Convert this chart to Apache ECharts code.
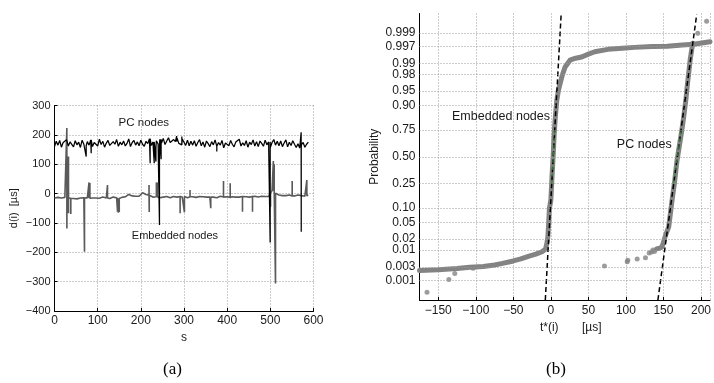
<!DOCTYPE html>
<html>
<head>
<meta charset="utf-8">
<script src="https://cdn.jsdelivr.net/npm/echarts@6/dist/echarts.min.js"></script>
<style>html,body{margin:0;padding:0;background:#fff;}#chart{width:714px;height:383px;}</style>
</head>
<body>
<div id="chart"></div>
<script>
// ---------- (a) time series ----------
const sTime = [0,4,8,12,16,20,24,28,32,36,40,44,48,52,56,60,64,68,72,76,80,84,88,92,96,100,104,108,112,116,
120,124,128,132,136,140,144,148,152,156,160,164,168,172,176,180,184,188,192,196,200,204,208,212,216,220,224,228,232,236,
240,244,248,252,256,260,264,268,272,276,280,284,288,292,296,300,304,308,312,316,320,324,328,332,336,340,344,348,352,356,
360,364,368,372,376,380,384,388,392,396,400,404,408,412,416,420,424,428,432,436,440,444,448,452,456,460,464,468,472,476,
480,484,488,492,496,500,504,508,512,516,520,524,528,532,536,540,544,548,552,556,560,564,568,572,576,580,584,588];
const pcBase = [160,178,165,181,158,174,169,183,162,176,171,159,180,166,175,157,182,168,163,177,
165,183,160,174,170,162,185,167,178,158,172,181,164,159,177,168,184,161,175,166,
179,162,171,186,160,174,181,165,176,163,182,168,161,178,170,187,164,176,159,180,
169,185,172,188,167,179,190,174,168,184,177,189,171,166,186,175,164,182,163,178,
165,180,161,174,184,163,176,158,179,170,160,177,166,183,161,174,165,181,156,172,
178,163,181,168,159,176,170,185,162,173,164,180,158,175,167,183,162,177,160,179,
171,161,182,166,176,157,174,184,165,178,163,179,160,172,183,159,175,164,180,168,
157,170,155,166,174,158,168,175];
const embBase = [-15,-18,-13,-16,-15,-19,-13,-16,-14,-17,-14,-17,-15,-18,-13,-15,-17,-14,-17,-15,
-16,-13,-15,-18,-15,-13,-16,-15,-12,-16,-15,-13,-17,-15,-12,-15,-14,-17,-15,-13,
-13,-11,-6,-3,-5,-8,-10,-9,-12,-9,-5,3,1,-3,-6,-8,-10,-12,-12,-11,
-12,-14,-11,-12,-14,-10,-12,-14,-12,-10,-13,-12,-10,-14,-12,-10,-12,-14,-11,-12,
-11,-13,-13,-10,-10,-13,-11,-13,-12,-10,-12,-10,-12,-12,-14,-11,-9,-12,-11,-10,
-11,-13,-10,-11,-9,-12,-10,-12,-10,-12,-10,-11,-9,-12,-10,-12,-9,-10,-12,-10,
-9,-11,-10,-9,-10,2,10,6,1,-3,-5,-4,-7,-5,-7,-6,-5,-8,-6,-8,
-7,-5,-8,-7,-6,-9,-7,-6];
const pcSpikes = [[73.4,126],[85,137],[221.6,103],[231,103],[235,109],[243.2,-107],[247,117],
[283,196],[295,194],[376,143],[499.6,-167],[571.4,209],[571.6,-130]];
const embSpikes = [[28.6,223],[28.7,-119],[32.4,126],[32.5,-67],[37.8,-70],[69.5,-198],[80,38],[82,36],
[122.8,29],[146,-62],[148,-65],[150,-63],[219,29],[219.5,-63],[236,38],[238,38],[291,-67],[301,-64],
[314,12],[362,-50],[391.5,43],[407,35],[435.5,-62],[458.7,-62],[500.5,-45],[507,111],[509,100],[512,-306],
[550.6,43],[584.6,46]];
const xTicksA = [0,600,100];   // min, max, step
const yTicksA = [-400,300,100];

// ---------- (b) normal probability plot ----------
const probTicks = [0.001,0.003,0.01,0.02,0.05,0.10,0.25,0.50,0.75,0.90,0.95,0.98,0.99,0.997,0.999];
const probLabels = ['0.001','0.003','0.01','0.02','0.05','0.10','0.25','0.50','0.75','0.90','0.95','0.98','0.99','0.997','0.999'];
const embCurve = [[-175,0.00226],[-150,0.0024],[-125,0.00264],[-108,0.00289],[-90,0.00307],[-75,0.00347],
[-64.5,0.0039],[-50,0.00466],[-40,0.00539],[-29,0.00657],[-20,0.00755],[-11.8,0.0089],[-7,0.0107],
[-5.3,0.0154],[-4,0.0228],[-3,0.0446],[-2,0.0968],[0,0.14],[1.5,0.3085],[3,0.5],[4.5,0.7224],[6,0.8413],
[7.9,0.9207],[10,0.9505],[12.4,0.9664],[15,0.9783],[19,0.98745],[25.5,0.99202],[33,0.99305],[41,0.99361],
[50,0.99477],[58.5,0.9956],[76,0.99632],[95,0.99664],[111,0.99683],[135,0.99702],[155,0.99711],
[175,0.99736],[190,0.99752],[212,0.99795]];
const embOutliers = [[-165,0.00036],[-135.9,0.0011],[-128,0.0018],[-103.6,0.0027]];
const pcCurve = [[141,0.0107],[145,0.0113],[148,0.0122],[149.6,0.0154],[153,0.0256],[157,0.0401],
[161.5,0.140],[165,0.274],[168,0.460],[170.3,0.567],[174,0.726],[177,0.841],[180,0.926],[182,0.966],
[184,0.984],[185.5,0.992],[187.5,0.996],[189,0.9977]];
const pcOutliers = [[71.4,0.0032],[101.7,0.0044],[102.5,0.0049],[115,0.0054],[126,0.0059],[131,0.0082],
[134,0.0087],[136,0.0099],[138,0.0091],[195.7,0.99897],[207.5,0.99964]];
const embFit = [[-7.4,0.000175],[13.7,0.99981]];
const pcFit = [[142.6,0.000175],[194.3,0.99981]];
const embFitMid = [[1.2,0.25],[5.2,0.75]];
const pcFitMid = [[163.6,0.25],[173.4,0.75]];

// inverse standard normal CDF (probability-axis scale transform)
function probit(p){
  const a=[-3.969683028665376e+01,2.209460984245205e+02,-2.759285104469687e+02,1.383577518672690e+02,-3.066479806614716e+01,2.506628277459239e+00];
  const b=[-5.447609879822406e+01,1.615858368580409e+02,-1.556989798598866e+02,6.680131188771972e+01,-1.328068155288572e+01];
  const c=[-7.784894002430293e-03,-3.223964580411365e-01,-2.400758277161838e+00,-2.549732539343734e+00,4.374664141464968e+00,2.938163982698783e+00];
  const d=[7.784695709041462e-03,3.224671290700398e-01,2.445134137142996e+00,3.754408661907416e+00];
  const pl=0.02425, ph=1-pl; let q,r;
  if(p<pl){q=Math.sqrt(-2*Math.log(p));return (((((c[0]*q+c[1])*q+c[2])*q+c[3])*q+c[4])*q+c[5])/((((d[0]*q+d[1])*q+d[2])*q+d[3])*q+1);}
  if(p<=ph){q=p-0.5;r=q*q;return (((((a[0]*r+a[1])*r+a[2])*r+a[3])*r+a[4])*r+a[5])*q/(((((b[0]*r+b[1])*r+b[2])*r+b[3])*r+b[4])*r+1);}
  q=Math.sqrt(-2*Math.log(1-p));return -(((((c[0]*q+c[1])*q+c[2])*q+c[3])*q+c[4])*q+c[5])/((((d[0]*q+d[1])*q+d[2])*q+d[3])*q+1);
}
const toZ = arr => arr.map(([x,p]) => [x, probit(p)]);
// base samples with single-sample spikes drawn as vertical excursions from the previous sample's level
function merge(base, spikes){
  const pts = [];
  let k = 0;
  const sp = spikes.slice().sort((u,v)=>u[0]-v[0]);
  sTime.forEach((s,i)=>{
    pts.push([s, base[i]]);
    while (k < sp.length && (i === sTime.length-1 || sp[k][0] < sTime[i+1])) {
      pts.push([sp[k][0], base[i]], [sp[k][0], sp[k][1]], [sp[k][0], base[i]]);
      k++;
    }
  });
  return pts;
}
const minus = v => (v<0 ? '\u2212'+Math.abs(v) : String(v));

const FONT = 'Liberation Sans';
const TXT = '#1a1a1a';
const GRIDC = '#9a9a9a';
const dotted = {color: GRIDC, width: 1, type: [1,2]};
const GRAY = '#838383';

const chart = echarts.init(document.getElementById('chart'), null, {renderer:'canvas'});
chart.setOption({
  animation: false,
  backgroundColor: '#fff',
  textStyle: {fontFamily: FONT, color: TXT},
  grid: [
    {left: 54.5, top: 105.5, width: 259, height: 205.5},
    {left: 419.5, top: 13.5, width: 294.5, height: 286.5}
  ],
  xAxis: [
    {gridIndex:0, type:'value', min:xTicksA[0], max:xTicksA[1], interval:xTicksA[2],
     name:'s', nameLocation:'middle', nameGap:14, nameTextStyle:{fontSize:12, color:TXT, fontFamily:FONT},
     axisLine:{show:true, onZero:false, lineStyle:{color:'#000', width:1}},
     axisTick:{show:true, inside:true, length:3, lineStyle:{color:'#000'}},
     axisLabel:{fontSize:12, color:TXT, margin:4, formatter:minus, fontFamily:FONT},
     splitLine:{show:true, lineStyle:dotted}},
    {gridIndex:1, type:'value', min:-175, max:212, splitNumber:8,
     name:'t*(i)       [µs]', nameLocation:'middle', nameGap:17,
     nameTextStyle:{fontSize:12, color:TXT, fontFamily:FONT, padding:[0,0,0,12]},
     axisLine:{show:true, onZero:false, lineStyle:{color:'#000', width:1}},
     axisTick:{show:true, inside:true, length:3, lineStyle:{color:'#000'}},
     axisLabel:{fontSize:12, color:TXT, margin:5, formatter:minus, showMinLabel:false, showMaxLabel:false, fontFamily:FONT},
     splitLine:{show:true, lineStyle:dotted}}
  ],
  yAxis: [
    {gridIndex:0, type:'value', min:yTicksA[0], max:yTicksA[1], interval:yTicksA[2],
     name:'d(i)  [µs]', nameLocation:'middle', nameGap:35, nameRotate:90,
     nameTextStyle:{fontSize:11, color:TXT, fontFamily:FONT},
     axisLine:{show:true, onZero:false, lineStyle:{color:'#000', width:1}},
     axisTick:{show:true, inside:true, length:3, lineStyle:{color:'#000'}},
     axisLabel:{fontSize:11, color:TXT, margin:4, formatter:minus, fontFamily:FONT},
     splitLine:{show:true, lineStyle:dotted}},
    {gridIndex:1, type:'value', min:-3.575, max:3.575,
     name:'Probability', nameLocation:'middle', nameGap:39, nameRotate:90,
     nameTextStyle:{fontSize:12, color:TXT, fontFamily:FONT},
     axisLine:{show:true, onZero:false, lineStyle:{color:'#000', width:1}},
     axisTick:{show:false}, axisLabel:{show:false}, splitLine:{show:false}}
  ],
  series: [
    // (a)
    {type:'line', xAxisIndex:0, yAxisIndex:0, data: merge(embBase, embSpikes), showSymbol:false, z:2,
     lineStyle:{color:'#5a5a5a', width:1.6}, silent:true,
     markPoint:{symbol:'circle', symbolSize:0, silent:true,
       label:{show:true, position:'inside', fontSize:11, color:TXT, fontFamily:FONT, formatter:'{b}'},
       data:[{name:'Embedded nodes', coord:[279,-145]}]}},
    {type:'line', xAxisIndex:0, yAxisIndex:0, data: merge(pcBase, pcSpikes), showSymbol:false, z:3,
     lineStyle:{color:'#000', width:1.25}, silent:true,
     markPoint:{symbol:'circle', symbolSize:0, silent:true,
       label:{show:true, position:'inside', fontSize:11.5, color:TXT, fontFamily:FONT, formatter:'{b}'},
       data:[{name:'PC nodes', coord:[207,240]}]}},
    // (b) grid lines for probability ticks
    {type:'line', xAxisIndex:1, yAxisIndex:1, data:[], z:1, silent:true,
     markLine:{silent:true, symbol:['none','none'], lineStyle:dotted,
       label:{show:true, position:'start', distance:4, fontSize:12, color:TXT, fontFamily:FONT, formatter:'{b}'},
       data: probTicks.map((p,i)=>({yAxis: probit(p), name: probLabels[i]}))}},
    {type:'line', xAxisIndex:1, yAxisIndex:1, data: toZ(embCurve), showSymbol:false, z:3, silent:true,
     lineStyle:{color:GRAY, width:5, cap:'round', join:'round'},
     markPoint:{symbol:'circle', symbolSize:0, silent:true,
       label:{show:true, position:'inside', fontSize:12.5, color:TXT, fontFamily:FONT, formatter:'{b}'},
       data:[{name:'Embedded nodes', coord:[-66.4, probit(0.845)]}, {name:'PC nodes', coord:[124.5, probit(0.624)]}]}},
    {type:'line', xAxisIndex:1, yAxisIndex:1, data: toZ(pcCurve), showSymbol:false, z:3, silent:true,
     lineStyle:{color:GRAY, width:5, cap:'round', join:'round'}},
    {type:'scatter', xAxisIndex:1, yAxisIndex:1, data: toZ(embOutliers.concat(pcOutliers)), symbolSize:5, z:3, silent:true,
     itemStyle:{color:GRAY}},
    {type:'line', xAxisIndex:1, yAxisIndex:1, data: toZ(embFit), showSymbol:false, z:4, silent:true,
     lineStyle:{color:'#000', width:1.5, type:[5,3]}},
    {type:'line', xAxisIndex:1, yAxisIndex:1, data: toZ(pcFit), showSymbol:false, z:4, silent:true,
     lineStyle:{color:'#000', width:1.5, type:[5,3]}},
    {type:'line', xAxisIndex:1, yAxisIndex:1, data: toZ(embFitMid), showSymbol:false, z:5, silent:true,
     lineStyle:{color:'#2a8a2a', width:1, type:[4,3]}},
    {type:'line', xAxisIndex:1, yAxisIndex:1, data: toZ(pcFitMid), showSymbol:false, z:5, silent:true,
     lineStyle:{color:'#2a8a2a', width:1, type:[4,3]}}
  ],
  graphic: [
    {type:'text', left:163, top:361, style:{text:'(a)', font:'17px "Liberation Serif"', fill:'#000'}},
    {type:'text', left:546, top:361, style:{text:'(b)', font:'17px "Liberation Serif"', fill:'#000'}}
  ]
});
</script>
</body>
</html>
